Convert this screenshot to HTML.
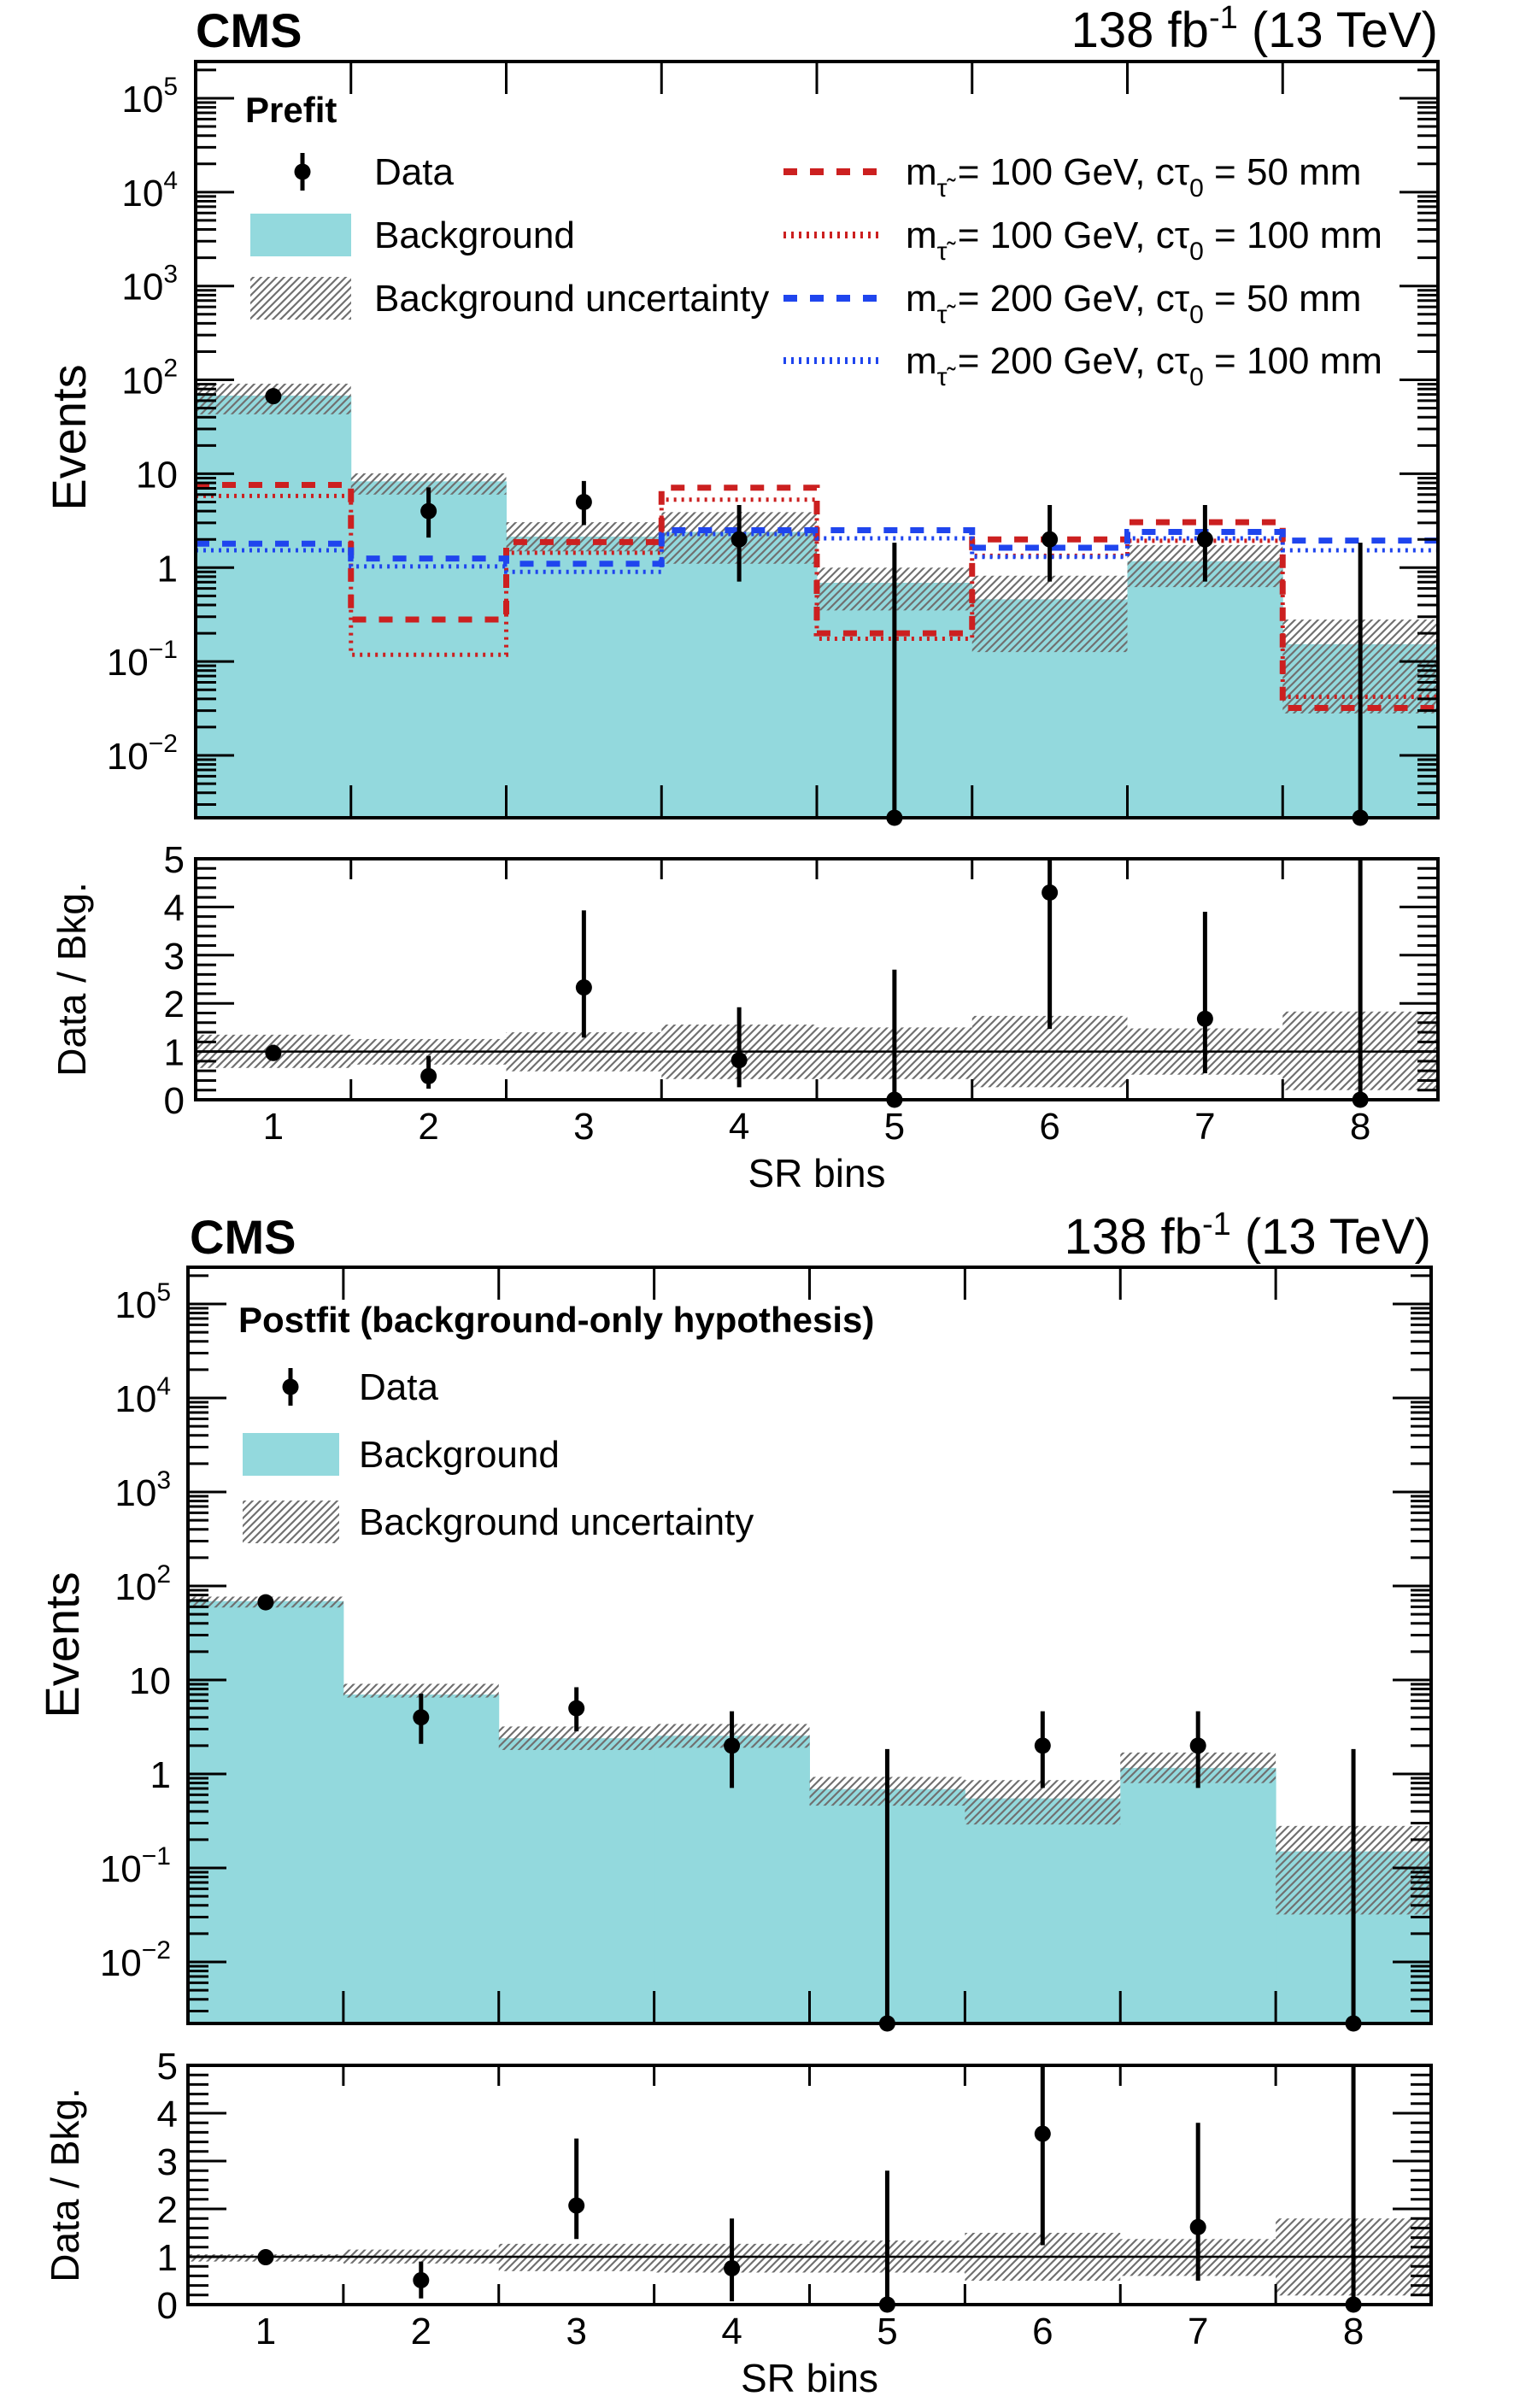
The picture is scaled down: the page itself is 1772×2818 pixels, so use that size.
<!DOCTYPE html>
<html><head><meta charset="utf-8"><style>
html,body{margin:0;padding:0;background:#fff;}
svg{display:block;font-family:"Liberation Sans",sans-serif;}
</style></head><body>
<svg id="chart" width="1772" height="2818" viewBox="0 0 1772 2818" xmlns="http://www.w3.org/2000/svg">
<defs>
<pattern id="hatch" patternUnits="userSpaceOnUse" width="9" height="9">
<path d="M-1,10 L10,-1 M-1,1 L1,-1 M8,10 L10,8" stroke="#707070" stroke-width="2.2"/>
</pattern>
</defs>
<g id="root"></g>
</svg>
<script>
// ---------- data ----------
const bins = [1,2,3,4,5,6,7,8];
// prefit (top)
const preBkg   = [68, 8.3, 2.14, 2.4, 0.69, 0.46, 1.17, 0.153];
const preBkgHi = [91, 10.1, 3.05, 3.9, 1.0, 0.82, 1.74, 0.28];
const preBkgLo = [43, 6.0, 1.49, 1.1, 0.35, 0.126, 0.62, 0.028];
const preData  = [67, 4, 5, 2, 0, 2, 2, 0];
const preDataHi= [75, 7.16, 8.38, 4.64, 1.84, 4.64, 4.64, 1.84];
const preDataLo= [59, 2.09, 2.84, 0.71, 0, 0.71, 0.71, 0];
const sig100_50  = [7.6, 0.28, 1.87, 7.1, 0.2, 2.0, 3.05, 0.032];
const sig100_100 = [5.8, 0.118, 1.44, 5.3, 0.175, 1.34, 1.93, 0.042];
const sig200_50  = [1.8, 1.25, 1.1, 2.5, 2.5, 1.63, 2.4, 1.94];
const sig200_100 = [1.53, 1.03, 0.9, 2.28, 2.05, 1.3, 2.05, 1.53];
const preRatio   = [0.97, 0.49, 2.33, 0.82, 0, 4.3, 1.68, 0];
const preRatioHi = [1.14, 0.91, 3.93, 1.92, 2.7, 5.3, 3.9, 5.3];
const preRatioLo = [0.85, 0.23, 1.29, 0.26, 0, 1.47, 0.55, 0];
const preBandHi  = [1.35, 1.26, 1.4, 1.56, 1.5, 1.74, 1.48, 1.83];
const preBandLo  = [0.66, 0.73, 0.59, 0.43, 0.43, 0.26, 0.52, 0.2];
// postfit (bottom)
const postBkg   = [69, 7.0, 2.4, 2.55, 0.69, 0.55, 1.16, 0.15];
const postBkgHi = [77, 9.1, 3.2, 3.4, 0.93, 0.86, 1.69, 0.28];
const postBkgLo = [59, 6.5, 1.8, 1.9, 0.46, 0.29, 0.8, 0.032];
const postData  = preData;
const postDataHi= preDataHi;
const postDataLo= preDataLo;
const postRatio   = [0.99, 0.51, 2.07, 0.76, 0, 3.57, 1.62, 0];
const postRatioHi = [1.1, 0.9, 3.47, 1.8, 2.8, 5.3, 3.8, 5.3];
const postRatioLo = [0.88, 0.13, 1.37, 0.07, 0, 1.24, 0.5, 0];
const postBandHi  = [1.05, 1.15, 1.27, 1.27, 1.34, 1.5, 1.37, 1.8];
const postBandLo  = [0.9, 0.86, 0.7, 0.67, 0.67, 0.5, 0.6, 0.19];
const logTicks = [5,4,3,2,1,0,-1,-2];
const ratioTicks = [0,1,2,3,4,5];

const NS="http://www.w3.org/2000/svg";
const root=document.getElementById('root');
function mk(tag,attrs,parent){const e=document.createElementNS(NS,tag);for(const k in attrs)e.setAttribute(k,attrs[k]);(parent||root).appendChild(e);return e;}

function txt(x,y,s,size,anchor,weight,parent){
  const t=mk('text',{x:x,y:y,'font-size':size,'text-anchor':anchor||'start','font-weight':weight||'normal',fill:'#000'},parent);
  t.textContent=s;return t;
}

function drawMain(P){
  const g=mk('g',{});
  
  
  const x0=P.x0,x1=P.x1,top=P.top,bot=P.bot,bw=(x1-x0)/8;
  const xb=i=>x0+i*bw;
  const yv=v=>P.y0 - (Math.log10(v)+2)*P.dec;
  const clipId='clip-'+P.name;
  const cp=mk('clipPath',{id:clipId},g);mk('rect',{x:x0,y:top,width:x1-x0,height:bot-top},cp);
  const c=mk('g',{'clip-path':'url(#'+clipId+')'},g);
  P.bkg.forEach((v,i)=>{
    const r=mk('rect',{x:xb(i),y:yv(v),width:bw+0.5,height:bot-yv(v),fill:'#93d9dd'},c);
    
    
  });
  P.bkgHi.forEach((v,i)=>{
    const r=mk('rect',{x:xb(i),y:yv(v),width:bw,height:yv(P.bkgLo[i])-yv(v),fill:'url(#hatch)'},c);
    
    
  });
  (P.signals||[]).forEach(s=>{
    let d='M'+xb(0)+','+yv(s.vals[0]);
    s.vals.forEach((v,i)=>{d+=' V'+yv(v)+' H'+xb(i+1);});
    const p=mk('path',{d:d,fill:'none',stroke:s.color,'stroke-width':s.w,'stroke-dasharray':s.dash},c);
    
    
  });
  P.data.forEach((v,i)=>{
    const cx=xb(i)+bw/2;
    const yc=v>0?yv(v):bot;
    const yl=P.dLo[i]>0?yv(P.dLo[i]):bot;
    const l=mk('line',{x1:cx,x2:cx,y1:yv(P.dHi[i]),y2:yl,stroke:'#000','stroke-width':5},g);
    
    
    const ci=mk('circle',{cx:cx,cy:yc,r:9.5,fill:'#000'},g);
    
    
  });
  mk('rect',{x:x0,y:top,width:x1-x0,height:bot-top,fill:'none',stroke:'#000','stroke-width':4},g);
  const ax=mk('g',{stroke:'#000','stroke-width':3},g);
  
  
  for(let e=-3;e<=5;e++){
    for(let m=1;m<10;m++){
      const y=yv(m*Math.pow(10,e));
      if(y<top+1||y>bot-1)continue;
      const L=m===1?45:24;
      mk('line',{x1:x0,x2:x0+L,y1:y,y2:y},ax);
      mk('line',{x1:x1,x2:x1-L,y1:y,y2:y},ax);
    }
  }
  for(let i=1;i<8;i++){
    mk('line',{x1:xb(i),x2:xb(i),y1:bot,y2:bot-38},ax);
    mk('line',{x1:xb(i),x2:xb(i),y1:top,y2:top+38},ax);
  }
  logTicks.forEach(e=>{
    const y=yv(Math.pow(10,e))+16;
    let t;
    if(e===1){t=txt(P.lblX,y,'10',44,'end');}
    else if(e===0){t=txt(P.lblX,y,'1',44,'end');}
    else{
      t=mk('text',{x:P.lblX,y:y,'font-size':44,'text-anchor':'end'},g);
      const a=mk('tspan',{},t);a.textContent='10';
      const b=mk('tspan',{dy:-20,'font-size':30},t);b.textContent=(e<0?'\u2212':'')+Math.abs(e);
    }
    
    
  });
  const yt=txt(0,0,'Events',56,'middle','normal',g);
  yt.setAttribute('transform','translate('+P.ytX+','+(P.ytY)+') rotate(-90)');
  
  
  return {xb:xb,bw:bw};
}

function drawRatio(P){
  const g=mk('g',{});
  
  
  const x0=P.x0,x1=P.x1,top=P.top,bot=P.bot,bw=(x1-x0)/8;
  const xb=i=>x0+i*bw;
  const yr=r=>bot-r*(bot-top)/5;
  const clipId='rclip-'+P.name;
  const cp=mk('clipPath',{id:clipId},g);mk('rect',{x:x0,y:top,width:x1-x0,height:bot-top},cp);
  const c=mk('g',{'clip-path':'url(#'+clipId+')'},g);
  P.bandHi.forEach((v,i)=>{
    const r=mk('rect',{x:xb(i),y:yr(v),width:bw,height:yr(P.bandLo[i])-yr(v),fill:'url(#hatch)'},c);
    
    
  });
  mk('line',{x1:x0,x2:x1,y1:yr(1),y2:yr(1),stroke:'#000','stroke-width':2.5},c);
  P.r.forEach((v,i)=>{
    const cx=xb(i)+bw/2;
    const l=mk('line',{x1:cx,x2:cx,y1:yr(P.rHi[i]),y2:yr(P.rLo[i]),stroke:'#000','stroke-width':5},c);
    
    
    const ci=mk('circle',{cx:cx,cy:yr(v),r:9.5,fill:'#000'},g);
    
    
  });
  mk('rect',{x:x0,y:top,width:x1-x0,height:bot-top,fill:'none',stroke:'#000','stroke-width':4},g);
  const ax=mk('g',{stroke:'#000','stroke-width':3},g);
  for(let k=0;k<=25;k++){
    const y=yr(k*0.2);
    const L=k%5===0?45:24;
    if(k===0||k===25)continue;
    mk('line',{x1:x0,x2:x0+L,y1:y,y2:y},ax);
    mk('line',{x1:x1,x2:x1-L,y1:y,y2:y},ax);
  }
  for(let i=1;i<8;i++){
    mk('line',{x1:xb(i),x2:xb(i),y1:bot,y2:bot-24},ax);
    mk('line',{x1:xb(i),x2:xb(i),y1:top,y2:top+24},ax);
  }
  ratioTicks.forEach(v=>{
    const t=txt(P.lblX,yr(v)+16,String(v),44,'end','normal',g);
    
    
  });
  bins.forEach((b,i)=>{
    const t=txt(xb(i)+bw/2,bot+46,String(b),44,'middle','normal',g);
    
    
  });
  const yt=txt(0,0,'Data / Bkg.',46,'middle','normal',g);
  yt.setAttribute('transform','translate('+P.ytX+','+((top+bot)/2)+') rotate(-90)');
  
  
  const xt=txt((x0+x1)/2,bot+102,'SR bins',46,'middle','normal',g);
  
  
}

const RED='#cc2020', BLUE='#1f45ee';
drawMain({name:'prefit',x0:229,x1:1683,top:72,bot:957,y0:884,dec:109.86,lblX:208,ytX:100,ytY:512,
  bkg:preBkg,bkgHi:preBkgHi,bkgLo:preBkgLo,data:preData,dHi:preDataHi,dLo:preDataLo,
  signals:[
    {name:'signal-100gev-50mm',vals:sig100_50,color:RED,w:7,dash:'16 15'},
    {name:'signal-100gev-100mm',vals:sig100_100,color:RED,w:5,dash:'3 6'},
    {name:'signal-200gev-50mm',vals:sig200_50,color:BLUE,w:7,dash:'16 15'},
    {name:'signal-200gev-100mm',vals:sig200_100,color:BLUE,w:5,dash:'3 6'}
  ]});
drawRatio({name:'prefit',x0:229,x1:1683,top:1005,bot:1287,lblX:216,ytX:100,
  r:preRatio,rHi:preRatioHi,rLo:preRatioLo,bandHi:preBandHi,bandLo:preBandLo});
drawMain({name:'postfit',x0:220,x1:1675,top:1483,bot:2368,y0:2296,dec:110,lblX:200,ytX:92,ytY:1925,
  bkg:postBkg,bkgHi:postBkgHi,bkgLo:postBkgLo,data:postData,dHi:postDataHi,dLo:postDataLo,signals:[]});
drawRatio({name:'postfit',x0:220,x1:1675,top:2417,bot:2697,lblX:208,ytX:92,
  r:postRatio,rHi:postRatioHi,rLo:postRatioLo,bandHi:postBandHi,bandLo:postBandLo});

function header(x,xr,y,name){
  const c=txt(x,y,'CMS',56,'start','bold');
  
  
  const t=mk('text',{x:xr,y:y,'font-size':58,'text-anchor':'end'});
  const a=mk('tspan',{},t);a.textContent='138 fb';
  const b=mk('tspan',{dy:-22,'font-size':38},t);b.textContent='-1';
  const d=mk('tspan',{dy:22},t);d.textContent=' (13 TeV)';
  
  
}
header(229,1683,55,'prefit');
header(222,1675,1467,'postfit');

function legEntry(kind,x,y,label,name,opt){
  const g=mk('g',{});
  
  
  if(kind==='data'){
    mk('line',{x1:opt.mx,x2:opt.mx,y1:y-22,y2:y+22,stroke:'#000','stroke-width':5},g);
    mk('circle',{cx:opt.mx,cy:y,r:9.5,fill:'#000'},g);
  }else if(kind==='bkg'){
    mk('rect',{x:opt.bx,y:y-25,width:opt.bw,height:50,fill:'#93d9dd'},g);
  }else if(kind==='unc'){
    mk('rect',{x:opt.bx,y:y-25,width:opt.bw,height:50,fill:'url(#hatch)'},g);
  }else if(kind==='sig'){
    mk('line',{x1:917,x2:1030,y1:y,y2:y,stroke:opt.color,'stroke-width':opt.w,'stroke-dasharray':opt.dash},g);
  }
  if(kind==='sig'){
    const t=mk('text',{x:x,y:y+15,'font-size':44},g);
    const a=mk('tspan',{},t);a.textContent='m';
    const b=mk('tspan',{dy:14,'font-size':30},t);b.textContent='\u03C4\u0303';
    const c2=mk('tspan',{dy:-14},t);c2.textContent=' = '+opt.m+' GeV, c\u03C4';
    const d=mk('tspan',{dy:14,'font-size':30},t);d.textContent='0';
    const e=mk('tspan',{dy:-14},t);e.textContent=' = '+opt.ct+' mm';
  }else{
    txt(x,y+15,label,44,'start','normal',g);
  }
}
const pt=txt(287,143,'Prefit',42,'start','bold');


legEntry('data',438,201,'Data','legend-data',{mx:354});
legEntry('bkg',438,275,'Background','legend-background',{bx:293,bw:118});
legEntry('unc',438,349,'Background uncertainty','legend-bkg-uncertainty',{bx:293,bw:118});
legEntry('sig',1060,201,'','legend-signal-100-50',{color:RED,w:8,dash:'16 15',m:100,ct:50});
legEntry('sig',1060,275,'','legend-signal-100-100',{color:RED,w:8,dash:'3 6',m:100,ct:100});
legEntry('sig',1060,349,'','legend-signal-200-50',{color:BLUE,w:8,dash:'16 15',m:200,ct:50});
legEntry('sig',1060,422,'','legend-signal-200-100',{color:BLUE,w:8,dash:'3 6',m:200,ct:100});
const qt=txt(279,1559,'Postfit (background-only hypothesis)',42,'start','bold');


legEntry('data',420,1623,'Data','postfit-legend-data',{mx:340});
legEntry('bkg',420,1702,'Background','postfit-legend-background',{bx:284,bw:113});
legEntry('unc',420,1781,'Background uncertainty','postfit-legend-bkg-uncertainty',{bx:284,bw:113});
</script>
</body></html>
